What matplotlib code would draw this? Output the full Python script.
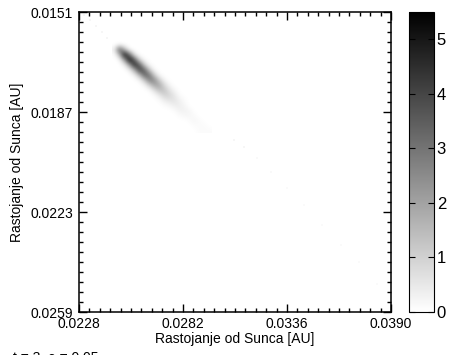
import numpy as np
import matplotlib.pyplot as plt
from matplotlib.colors import Normalize
from matplotlib.ticker import AutoMinorLocator, FormatStrFormatter

plt.rcParams["font.family"] = ["Liberation Sans", "DejaVu Sans"]

# density patch (x10) on a coarse grid
patch_x = (0.024514, 0.029706)   # [AU]
patch_y = (0.016036, 0.019456)   # [AU]
density = np.array([
    [0, 0, 0, 0, 0, 0, 0, 0, 0, 0, 0, 0, 0, 0, 0, 0, 0, 0, 0, 0],
    [0, 1, 0, 0, 0, 0, 0, 0, 0, 0, 0, 0, 0, 0, 0, 0, 0, 0, 0, 0],
    [3, 36, 16, 1, 0, 0, 0, 0, 0, 0, 0, 0, 0, 0, 0, 0, 0, 0, 0, 0],
    [0, 14, 54, 32, 5, 0, 0, 0, 0, 0, 0, 0, 0, 0, 0, 0, 0, 0, 0, 0],
    [0, 1, 20, 54, 36, 8, 1, 0, 0, 0, 0, 0, 0, 0, 0, 0, 0, 0, 0, 0],
    [0, 0, 3, 20, 48, 36, 10, 1, 0, 0, 0, 0, 0, 0, 0, 0, 0, 0, 0, 0],
    [0, 0, 0, 3, 17, 42, 34, 11, 1, 0, 0, 0, 0, 0, 0, 0, 0, 0, 0, 0],
    [0, 0, 0, 0, 3, 15, 35, 30, 10, 1, 0, 0, 0, 0, 0, 0, 0, 0, 0, 0],
    [0, 0, 0, 0, 0, 2, 12, 28, 25, 10, 2, 0, 0, 0, 0, 0, 0, 0, 0, 0],
    [0, 0, 0, 0, 0, 0, 2, 10, 20, 19, 8, 2, 0, 0, 0, 0, 0, 0, 0, 0],
    [0, 0, 0, 0, 0, 0, 0, 1, 7, 14, 13, 6, 2, 0, 0, 0, 0, 0, 0, 0],
    [0, 0, 0, 0, 0, 0, 0, 0, 1, 5, 10, 9, 5, 1, 0, 0, 0, 0, 0, 0],
    [0, 0, 0, 0, 0, 0, 0, 0, 0, 1, 4, 6, 6, 3, 1, 0, 0, 0, 0, 0],
    [0, 0, 0, 0, 0, 0, 0, 0, 0, 0, 1, 2, 4, 4, 2, 0, 0, 0, 0, 0],
    [0, 0, 0, 0, 0, 0, 0, 0, 0, 0, 0, 0, 1, 3, 3, 2, 0, 0, 0, 0],
    [0, 0, 0, 0, 0, 0, 0, 0, 0, 0, 0, 0, 0, 1, 2, 2, 1, 0, 0, 0],
    [0, 0, 0, 0, 0, 0, 0, 0, 0, 0, 0, 0, 0, 0, 0, 1, 2, 1, 0, 0],
    [0, 0, 0, 0, 0, 0, 0, 0, 0, 0, 0, 0, 0, 0, 0, 0, 1, 1, 1, 0],
    [0, 0, 0, 0, 0, 0, 0, 0, 0, 0, 0, 0, 0, 0, 0, 0, 0, 1, 1, 1],
]) / 10.0

# faint specks outside the patch
tail_x = [0.02306, 0.023371, 0.023683, 0.023994, 0.024254,
          0.030862, 0.031381, 0.032056, 0.032783, 0.033613,
          0.034496, 0.03543, 0.036417, 0.037352, 0.038287]
tail_y = [0.015208, 0.015388, 0.015604, 0.01582, 0.016036,
          0.019708, 0.01996, 0.020356, 0.02086, 0.021436,
          0.022048, 0.022768, 0.023488, 0.0241, 0.024892]
tail_v = [0.2, 0.2, 0.2, 0.2, 0.2,
          0.2, 0.2, 0.15, 0.15, 0.12,
          0.12, 0.12, 0.12, 0.12, 0.12]

xticks = [0.0228, 0.0282, 0.0336, 0.0390]
yticks = [0.0151, 0.0187, 0.0223, 0.0259]
cticks = [0, 1, 2, 3, 4, 5]

norm = Normalize(0.0, 5.5)

fig = plt.figure(figsize=(4.5, 3.55), dpi=100)
ax = fig.add_axes([79 / 450, 43 / 355, 312 / 450, 300 / 355])
cax = fig.add_axes([409 / 450, 43 / 355, 25 / 450, 300 / 355])

im = ax.imshow(density, cmap="gray_r", norm=norm, origin="upper",
               extent=[patch_x[0], patch_x[1], patch_y[1], patch_y[0]],
               interpolation="bicubic", aspect="auto")
ax.scatter(tail_x, tail_y, c=tail_v, cmap="gray_r", norm=norm,
           s=2, marker="s", linewidths=0)

ax.set_xlim(xticks[0], xticks[-1])
ax.set_ylim(yticks[-1], yticks[0])
ax.set_xticks(xticks)
ax.set_yticks(yticks)
ax.xaxis.set_major_formatter(FormatStrFormatter("%.4f"))
ax.yaxis.set_major_formatter(FormatStrFormatter("%.4f"))
ax.xaxis.set_minor_locator(AutoMinorLocator(10))
ax.yaxis.set_minor_locator(AutoMinorLocator(10))
ax.tick_params(which="both", direction="in", top=True, right=True,
               labelsize=10, width=1.0, color="black")
ax.tick_params(which="major", length=6)
ax.tick_params(which="minor", length=3)
ax.tick_params(axis="x", pad=3.4)
ax.tick_params(axis="y", pad=4.2)
for sp in ax.spines.values():
    sp.set_linewidth(1.1)

ax.set_xlabel("Rastojanje od Sunca [AU]", fontsize=10)
ax.set_ylabel("Rastojanje od Sunca [AU]", fontsize=10)
ax.xaxis.set_label_coords(0.5, -0.068)
ax.yaxis.set_label_coords(-0.175, 0.5)

cb = fig.colorbar(im, cax=cax, ticks=cticks)
cb.outline.set_linewidth(0.8)
cax.tick_params(direction="in", left=True, right=True, length=4,
                width=0.8, labelsize=12, pad=2)

# caption line that is cut off at the bottom of the image
fig.text(0.028, 0.012, "t = 3, e = 0.05", fontsize=10, va="top", ha="left")

fig.savefig("out.png", dpi=100)
